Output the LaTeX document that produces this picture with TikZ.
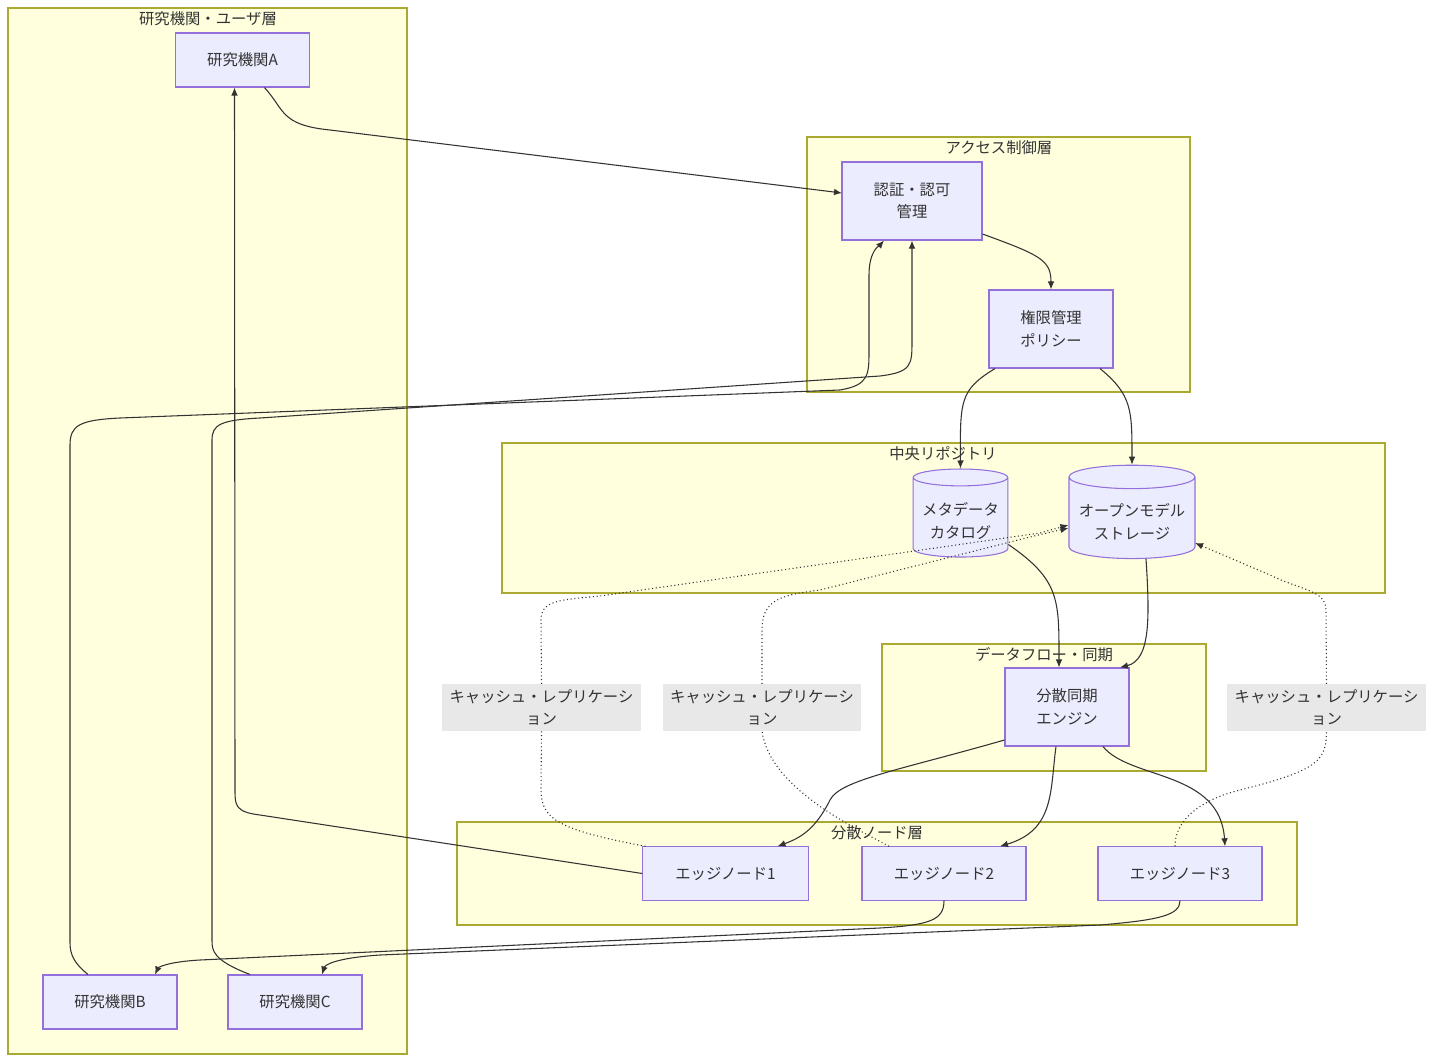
\documentclass[tikz,border=0pt]{standalone}
\usepackage{fontspec}
\setmainfont{Noto Sans CJK JP}
\usetikzlibrary{shapes.geometric,calc,arrows.meta}
\definecolor{nf}{HTML}{ECECFF}\definecolor{nb}{HTML}{9370DB}
\definecolor{cf}{HTML}{FFFFDE}\definecolor{cb}{HTML}{AAAA33}
\definecolor{ln}{HTML}{333333}\definecolor{lb}{HTML}{E8E8E8}
\begin{document}
\begin{tikzpicture}[x=0.75pt,y=-0.75pt,
 font=\fontsize{11.5}{17}\selectfont,
 box/.style={draw=nb,fill=nf,line width=0.8pt,align=center,inner sep=0pt,text=ln},
 cyl/.style={box,cylinder,shape border rotate=90,aspect=0.22,shape aspect=0.22},
 clu/.style={draw=cb,fill=cf,line width=0.8pt},
 cl/.style={text=ln,anchor=center},
 e/.style={draw=ln,line width=0.8pt,-{Latex[length=6pt,width=5pt]}},
 d/.style={e,dotted},
 lab/.style={fill=lb,text=ln,align=center,minimum width=149pt,minimum height=35pt,inner sep=0pt}]
\useasboundingbox (0,0) rectangle (1435,1063);
\fill[white] (0,0) rectangle (1435,1063);
\draw[clu] (8,8) rectangle (407,1054); \node[cl] (t1) at (208,19) {研究機関・ユーザ層};
\draw[clu] (807,137) rectangle (1190,392); \node[cl] (t2) at (999,148) {アクセス制御層};
\draw[clu] (502,443) rectangle (1385,593); \node[cl] (t3) at (943,454) {中央リポジトリ};
\draw[clu] (882,644) rectangle (1206,771); \node[cl] (t4) at (1044,655) {データフロー・同期};
\draw[clu] (457,822) rectangle (1297,925); \node[cl] (t5) at (877,833) {分散ノード層};
\node[box,minimum width=101pt,minimum height=40.5pt] (A) at (242.5,60) {研究機関A};
\node[box,minimum width=105pt,minimum height=58.5pt] (Au) at (912,201) {認証・認可\\管理};
\node[box,minimum width=93pt,minimum height=58.5pt] (P) at (1051,329) {権限管理\\ポリシー};
\node[cyl,minimum width=71pt,minimum height=66pt] (M) at (960.5,517.5) {\\[-2pt]メタデータ\\カタログ};
\node[cyl,minimum width=94.5pt,minimum height=70pt] (S) at (1132,518) {\\[-2pt]オープンモデル\\ストレージ};
\node[box,minimum width=93pt,minimum height=58.5pt] (Y) at (1067,707) {分散同期\\エンジン};
\node[box,minimum width=124pt,minimum height=40pt] (E1) at (725.5,873.5) {エッジノード1};
\node[box,minimum width=123pt,minimum height=40pt] (E2) at (944,873.5) {エッジノード2};
\node[box,minimum width=123pt,minimum height=40pt] (E3) at (1180,873.5) {エッジノード3};
\node[box,minimum width=100.5pt,minimum height=40.5pt] (B) at (110,1002) {研究機関B};
\node[box,minimum width=100.5pt,minimum height=40.5pt] (C) at (295,1002) {研究機関C};
% edges
\draw[e] ($(A.south)+(22,0)$) .. controls (285,110) and (280,125) .. (330,130) -- (842,193);
\draw[e] ($(Au.east)+(0,33)$) .. controls (1040,255) and (1051,260) .. ($(P.north)$);
\draw[e] ($(P.south)+(-56,0)$) .. controls (960,390) and (960,400) .. ($(M.north)$);
\draw[e] ($(P.south)+(49,0)$) .. controls (1132,395) and (1132,410) .. ($(S.north)$);
\draw[e] ($(M.east)+(0,27)$) .. controls (1060,580) and (1059,600) .. ($(Y.north)+(-8,0)$);
\draw[e] ($(S.south)+(14,0)$) .. controls (1150,620) and (1150,660) .. ($(Y.north)+(53,0)$);
\draw[e] ($(Y.west)+(0,33)$) .. controls (900,770) and (840,780) .. (830,800) .. controls (815,830) and (800,838) .. ($(E1.north)+(52,0)$);
\draw[e] ($(Y.south)+(-11,0)$) .. controls (1050,790) and (1055,830) .. ($(E2.north)+(56,0)$);
\draw[e] ($(Y.south)+(36,0)$) .. controls (1130,780) and (1220,770) .. ($(E3.north)+(45,0)$);
\draw[e] (E1.west) -- (260,815) .. controls (235,812) and (235,805) .. (235,790) -- ($(A.south)+(-8,0)$);
\draw[e] ($(B.north)+(-22,0)$) .. controls (70,960) and (70,950) .. (70,940) -- (70,445) .. controls (70,425) and (80,420) .. (120,418) -- (840,390) .. controls (869,385) and (869,375) .. (869,350) -- (869,275) .. controls (869,250) and (880,245) .. ($(Au.south)+(-28,0)$);
\draw[e] ($(C.north)+(-45,0)$) .. controls (212,960) and (212,950) .. (212,940) -- (212,440) .. controls (212,425) and (220,420) .. (260,418) -- (880,376) .. controls (912,372) and (912,365) .. (912,340) -- (Au.south);
\draw[e] ($(E2.south)+(0,0)$) .. controls (944,920) and (930,925) .. (880,928) -- (200,960) .. controls (165,962) and (158,968) .. ($(B.north)+(45,0)$);
\draw[e] ($(E3.south)$) .. controls (1180,915) and (1160,920) .. (1100,925) -- (380,955) .. controls (335,958) and (325,965) .. ($(C.north)+(27,0)$);
% dotted
\node[lab] (L1) at (541.5,707.5) {キャッシュ・レプリケーシ\\ョン};
\node[lab] (L2) at (762,707.5) {キャッシュ・レプリケーシ\\ョン};
\node[lab] (L3) at (1326.5,707.5) {キャッシュ・レプリケーシ\\ョン};
\draw[d] ($(E1.north)+(-80,0)$) .. controls (560,830) and (541,820) .. (541,790) -- (L1.south) (L1.north) -- (541,620) .. controls (541,600) and (560,600) .. (600,596) -- (1040,533) -- ($(S.west)+(0,7)$);
\draw[d] ($(E2.north)+(-55,0)$) .. controls (860,830) and (770,790) .. (762,731) (L2.north) -- (762,630) .. controls (762,600) and (780,595) .. (820,590) -- (1030,537) -- ($(S.west)+(0,10)$);
\draw[d] ($(E3.north)+(-5,0)$) .. controls (1175,820) and (1200,800) .. (1240,790) .. controls (1320,770) and (1326,760) .. (L3.south) (L3.north) -- (1326,610) .. controls (1326,590) and (1300,590) .. (1270,575) -- (1195,543);
\end{tikzpicture}
\end{document}
